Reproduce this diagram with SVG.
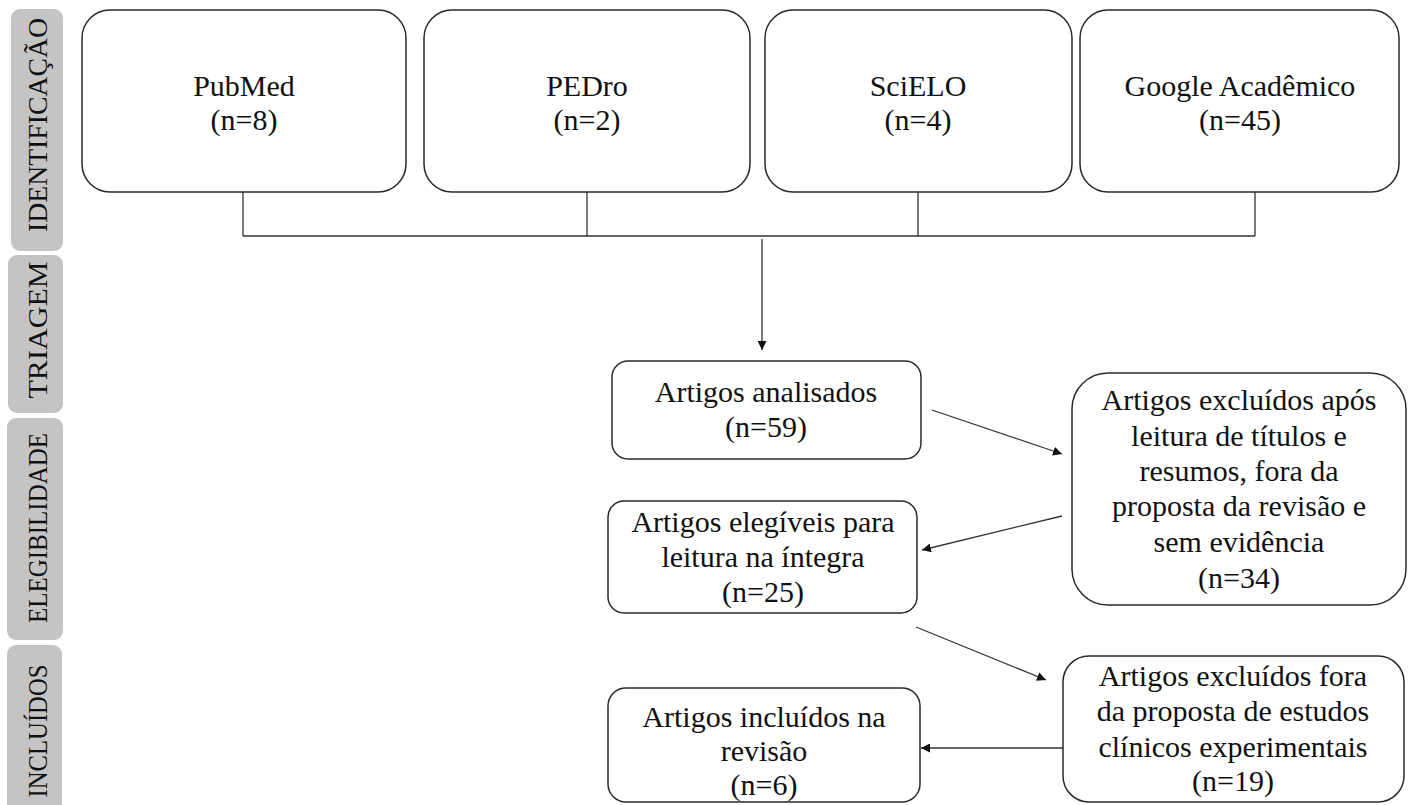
<svg xmlns="http://www.w3.org/2000/svg" width="1412" height="805" viewBox="0 0 1412 805">
<style>
.tab{fill:#c4c4c4;}
.tabt{font-family:"Liberation Serif","Times New Roman",serif;font-size:27px;fill:#111;text-anchor:middle;}
.box{fill:#fff;stroke:#2a2a2a;stroke-width:1.5;}
.t{font-family:"Liberation Serif","Times New Roman",serif;fill:#111;text-anchor:middle;font-size:30px;}
.ln{fill:none;stroke:#333;stroke-width:1.3;}
</style>
<defs>
<marker id="ah" viewBox="0 0 10 10" refX="10" refY="5" markerWidth="9" markerHeight="9" markerUnits="userSpaceOnUse" orient="auto">
<path d="M0,0 L10,5 L0,10 z" fill="#111"/>
</marker>
</defs>
<rect width="1412" height="805" fill="#fff"/>
<g id="tab-identificacao"><rect class="tab" x="11" y="9" width="52" height="242" rx="9"/><text class="tabt" transform="translate(47,125) rotate(-90)" textLength="214" lengthAdjust="spacingAndGlyphs">IDENTIFICAÇÃO</text></g>
<g id="tab-triagem"><rect class="tab" x="8" y="255" width="55" height="158" rx="9"/><text class="tabt" transform="translate(47,330) rotate(-90)" textLength="137" lengthAdjust="spacingAndGlyphs">TRIAGEM</text></g>
<g id="tab-elegibilidade"><rect class="tab" x="7" y="418" width="56" height="222" rx="9"/><text class="tabt" transform="translate(47,528) rotate(-90)" textLength="190" lengthAdjust="spacingAndGlyphs">ELEGIBILIDADE</text></g>
<g id="tab-incluidos"><rect class="tab" x="7" y="645" width="55" height="180" rx="9"/><text class="tabt" transform="translate(47,731) rotate(-90)" textLength="133" lengthAdjust="spacingAndGlyphs">INCLUÍDOS</text></g>

<g id="pubmed"><rect class="box" x="82" y="10" width="324" height="182" rx="28"/><text class="t" x="244" y="96">PubMed</text><text class="t" x="244" y="130">(n=8)</text></g>
<g id="pedro"><rect class="box" x="424" y="10" width="326" height="182" rx="28"/><text class="t" x="587" y="96">PEDro</text><text class="t" x="587" y="130">(n=2)</text></g>
<g id="scielo"><rect class="box" x="765" y="10" width="307" height="182" rx="28"/><text class="t" x="918" y="96">SciELO</text><text class="t" x="918" y="130">(n=4)</text></g>
<g id="google"><rect class="box" x="1080" y="10" width="319" height="182" rx="28"/><text class="t" x="1240" y="96">Google Acadêmico</text><text class="t" x="1240" y="130">(n=45)</text></g>

<g id="analisados"><rect class="box" x="612" y="361" width="309" height="98" rx="16"/><text class="t" x="766" y="402">Artigos analisados</text><text class="t" x="766" y="437">(n=59)</text></g>
<g id="excluidos1"><rect class="box" x="1072" y="373" width="334" height="232" rx="36"/><text class="t" x="1239" y="410">Artigos excluídos após</text><text class="t" x="1239" y="446">leitura de títulos e</text><text class="t" x="1239" y="481">resumos, fora da</text><text class="t" x="1239" y="516">proposta da revisão e</text><text class="t" x="1239" y="552">sem evidência</text><text class="t" x="1239" y="588">(n=34)</text></g>
<g id="elegiveis"><rect class="box" x="608" y="501" width="309" height="112" rx="16"/><text class="t" x="763" y="532">Artigos elegíveis para</text><text class="t" x="763" y="567">leitura na íntegra</text><text class="t" x="763" y="602">(n=25)</text></g>
<g id="excluidos2"><rect class="box" x="1063" y="656" width="341" height="146" rx="26"/><text class="t" x="1233" y="686">Artigos excluídos fora</text><text class="t" x="1233" y="721">da proposta de estudos</text><text class="t" x="1233" y="757">clínicos experimentais</text><text class="t" x="1233" y="791">(n=19)</text></g>
<g id="incluidos"><rect class="box" x="608" y="688" width="312" height="114" rx="18"/><text class="t" x="764" y="727">Artigos incluídos na</text><text class="t" x="764" y="761">revisão</text><text class="t" x="764" y="795">(n=6)</text></g>

<g id="connectors">
<path class="ln" d="M243,192 V236 M587,192 V236 M918,192 V236 M1255,192 V236 M243,236 H1255"/>
<line class="ln" x1="762" y1="239" x2="762" y2="350" marker-end="url(#ah)"/>
<line class="ln" x1="932" y1="410" x2="1062" y2="454" marker-end="url(#ah)"/>
<line class="ln" x1="1062" y1="516" x2="922" y2="550" marker-end="url(#ah)"/>
<line class="ln" x1="916" y1="627" x2="1046" y2="680" marker-end="url(#ah)"/>
<line class="ln" x1="1063" y1="748" x2="921" y2="748" marker-end="url(#ah)"/>
</g>
</svg>
